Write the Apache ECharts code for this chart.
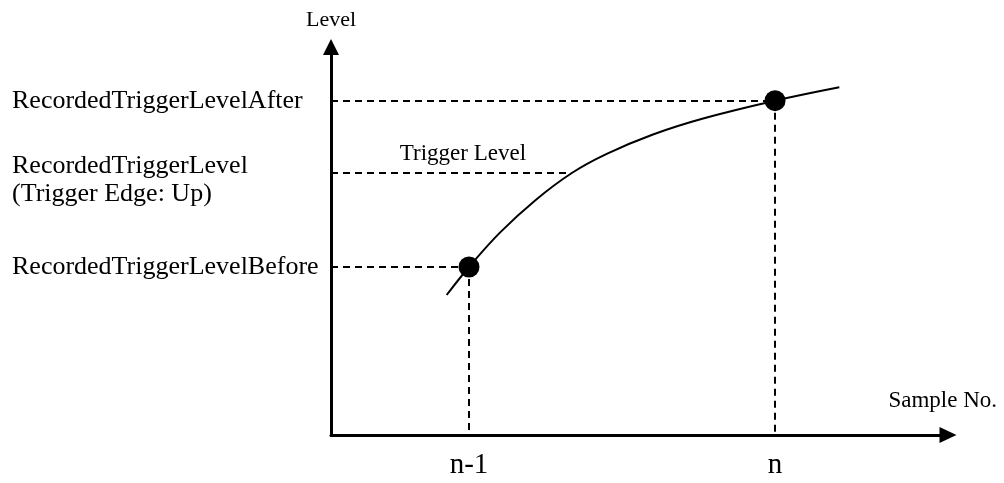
<!DOCTYPE html>
<html>
<head>
<meta charset="utf-8">
<script src="https://cdn.jsdelivr.net/npm/echarts@6/dist/echarts.min.js"></script>
<style>
html,body{margin:0;padding:0;background:#fff;}
#chart{width:1004px;height:483px;}
</style>
</head>
<body>
<div id="chart"></div>
<script>
// ---- data ----
const sampleNo = [1, 2];                 // positions of samples n-1 and n
const sampleLabels = ['n-1', 'n'];       // x tick labels
const sampleLevel = [1.68, 3.343];       // recorded levels at n-1 and n
const triggerLevel = 2.62;               // trigger level
const triggerCross = 1.336;              // where the curve crosses the trigger level
const curveX = [0.927, 1.0, 1.101, 1.216, 1.336, 1.45, 1.601, 1.765, 2.0, 2.21];
const curveY = [1.40, 1.68, 2.024, 2.346, 2.62, 2.811, 3.005, 3.165, 3.343, 3.477];
const levelLabels = ['RecordedTriggerLevelBefore', 'RecordedTriggerLevel\n(Trigger Edge: Up)', 'RecordedTriggerLevelAfter'];
const triggerText = 'Trigger Level';
const xRange = [0.549, 2.539];
const yRange = [0, 3.80];

const FONT = 'Liberation Serif';
const curve = curveX.map((x, i) => [x, curveY[i]]);
const points = sampleNo.map((x, i) => [x, sampleLevel[i]]);

const leftLabel = (text, extra) => Object.assign({
  show: true, position: 'start', align: 'left', distance: [319, 0],
  formatter: text, fontFamily: FONT, fontSize: 26, color: '#000'
}, extra || {});

// two-line trigger label, nudged down with a thin spacer line (rich text)
const triggerRich = '{p| }\n' + levelLabels[1].split('\n').map(s => '{t|' + s + '}').join('\n');

const chart = echarts.init(document.getElementById('chart'));
chart.setOption({
  animation: false,
  backgroundColor: '#fff',
  textStyle: { fontFamily: FONT, color: '#000' },
  grid: { left: 331, right: 64, top: 55, bottom: 48 },
  xAxis: {
    type: 'value', min: xRange[0], max: xRange[1],
    splitLine: { show: false }, axisTick: { show: false },
    axisLine: { onZero: false, lineStyle: { color: '#000', width: 3 },
      symbol: ['none', 'triangle'], symbolSize: [16, 17], symbolOffset: [0, 8] },
    axisLabel: { customValues: sampleNo,
      formatter: v => sampleLabels[sampleNo.indexOf(v)] || '',
      margin: 16, color: '#000', fontFamily: FONT, fontSize: 29 },
    name: 'Sample No.', nameLocation: 'end', nameGap: 57,
    nameTextStyle: { align: 'right', verticalAlign: 'bottom', lineHeight: 68,
      fontFamily: FONT, fontSize: 23, color: '#000' }
  },
  yAxis: {
    type: 'value', min: yRange[0], max: yRange[1],
    splitLine: { show: false }, axisTick: { show: false }, axisLabel: { show: false },
    axisLine: { onZero: false, lineStyle: { color: '#000', width: 3 },
      symbol: ['none', 'triangle'], symbolSize: [16, 16], symbolOffset: [0, 8] },
    name: 'Level', nameLocation: 'end', nameGap: 24,
    nameTextStyle: { align: 'center', fontFamily: FONT, fontSize: 22, color: '#000' }
  },
  series: [
    {
      type: 'line', data: curve, smooth: 0.4, symbol: 'none', z: 3,
      lineStyle: { color: '#000', width: 2 },
      markLine: {
        silent: true, symbol: ['none', 'none'], animation: false,
        lineStyle: { color: '#000', width: 2, type: [7, 5] },
        label: { show: false },
        data: [
          [{ coord: [xRange[0], sampleLevel[0]], label: leftLabel(levelLabels[0]) }, { coord: [sampleNo[0], sampleLevel[0]] }],
          [{ coord: [xRange[0], sampleLevel[1]], label: leftLabel(levelLabels[2]) }, { coord: [sampleNo[1], sampleLevel[1]] }],
          [{ coord: [xRange[0], triggerLevel], label: { show: true, position: 'middle', distance: 8,
              padding: [0, 0, 0, 23], formatter: triggerText, fontFamily: FONT, fontSize: 23, color: '#000' } },
           { coord: [triggerCross, triggerLevel] }],
          [{ coord: [xRange[0], triggerLevel], lineStyle: { color: 'rgba(0,0,0,0)' },
              label: leftLabel(triggerRich, { rich: {
                p: { fontSize: 1, lineHeight: 14 },
                t: { fontFamily: FONT, fontSize: 26, lineHeight: 28, color: '#000' }
              } }) },
           { coord: [triggerCross, triggerLevel] }],
          [{ coord: [sampleNo[0], sampleLevel[0]] }, { coord: [sampleNo[0], yRange[0]] }],
          [{ coord: [sampleNo[1], sampleLevel[1]] }, { coord: [sampleNo[1], yRange[0]] }]
        ]
      }
    },
    {
      type: 'scatter', data: points, symbolSize: 21, z: 10,
      itemStyle: { color: '#000', opacity: 1 }, silent: true
    }
  ]
});
</script>
</body>
</html>
